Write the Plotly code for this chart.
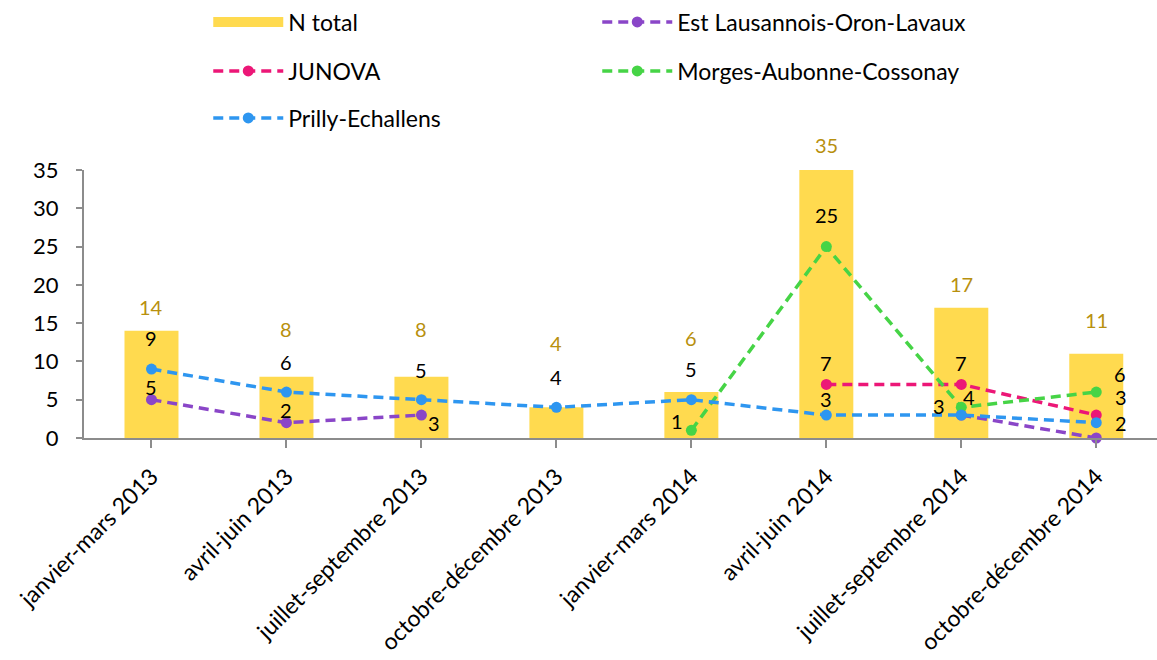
import plotly.graph_objects as go

categories = ["janvier-mars 2013", "avril-juin 2013", "juillet-septembre 2013",
              "octobre-décembre 2013", "janvier-mars 2014", "avril-juin 2014",
              "juillet-septembre 2014", "octobre-décembre 2014"]
n_total = [14, 8, 8, 4, 6, 35, 17, 11]
est_lausannois = [5, 2, 3, None, None, None, 3, 0]
junova = [None, None, None, None, None, 7, 7, 3]
morges = [None, None, None, None, 1, 25, 4, 6]
prilly = [9, 6, 5, 4, 5, 3, 3, 2]

# label nudges (pixels): styling only
total_label_shift = [24, 48, 48, 64, 54, 25, 24, 34]
series_label_shift = {
    "Est Lausannois-Oron-Lavaux": [(0, 13), (0, 13), (13, -8), None, None, None, None, None],
    "JUNOVA": [None, None, None, None, None, (0, 21), (0, 21), (25, 18)],
    "Morges-Aubonne-Cossonay": [None, None, None, None, (-14, 9), (0, 32), (8, 10), (24, 18)],
    "Prilly-Echallens": [(0, 31), (0, 30), (0, 30), (0, 30), (0, 31), (0, 16), (-22, 9), (25, 0)],
}

FONT = "Lato, 'Open Sans', sans-serif"
BAR_COLOR = "#FFDA4F"
TOTAL_LABEL_COLOR = "#B8900E"

series = [
    ("Est Lausannois-Oron-Lavaux", est_lausannois, "#8A46C8", "legend"),
    ("JUNOVA", junova, "#EC1777", "legend2"),
    ("Morges-Aubonne-Cossonay", morges, "#46D446", "legend2"),
    ("Prilly-Echallens", prilly, "#2E96F0", "legend3"),
]

x_idx = list(range(len(categories)))

fig = go.Figure()
fig.add_trace(go.Bar(
    x=x_idx, y=n_total, name="N total", marker=dict(color=BAR_COLOR, line=dict(width=0)),
    width=0.4, showlegend=False,
))
# legend swatch for the bars (wide rectangle like the original)
fig.add_trace(go.Scatter(
    x=[None], y=[None], name="N total", mode="lines",
    line=dict(color=BAR_COLOR, width=17), legend="legend", hoverinfo="skip",
))
for name, vals, color, leg in series:
    fig.add_trace(go.Scatter(
        x=x_idx, y=vals, name=name, mode="lines+markers",
        line=dict(color=color, width=3.5, dash="10px,6px"),
        marker=dict(color=color, size=11, symbol="circle"),
        connectgaps=False, cliponaxis=False, legend=leg,
    ))

annotations = []
for i, v in enumerate(n_total):
    annotations.append(dict(
        x=i, y=v, xref="x", yref="y", text=str(v), showarrow=False,
        yanchor="middle", yshift=total_label_shift[i],
        font=dict(family=FONT, size=20, color=TOTAL_LABEL_COLOR),
    ))
for name, vals, color, leg in series:
    shifts = series_label_shift[name]
    for i, v in enumerate(vals):
        if v is None or shifts[i] is None:
            continue
        dx, dy = shifts[i]
        annotations.append(dict(
            x=i, y=v, xref="x", yref="y", text=str(v), showarrow=False,
            xanchor="center", yanchor="middle", xshift=dx, yshift=dy,
            font=dict(family=FONT, size=20, color="#000000"),
        ))

legend_common = dict(
    orientation="h", xref="container", yref="container", x=0.18, xanchor="left",
    yanchor="middle", entrywidth=304, entrywidthmode="pixels", itemwidth=70,
    font=dict(family=FONT, size=23, color="#000000"), bgcolor="rgba(0,0,0,0)",
    traceorder="normal",
)

fig.update_layout(
    width=1157, height=660,
    margin=dict(l=84, r=0, t=170, b=222),
    paper_bgcolor="white", plot_bgcolor="white",
    font=dict(family=FONT, size=20, color="#000000"),
    showlegend=True,
    legend=dict(legend_common, y=1 - 22 / 660),
    legend2=dict(legend_common, y=1 - 71 / 660),
    legend3=dict(legend_common, y=1 - 118 / 660),
    annotations=annotations,
    xaxis=dict(
        tickmode="array", tickvals=x_idx, ticktext=categories, tickangle=-45,
        range=[-0.5, 7.45], showgrid=False, zeroline=False, automargin=False,
        showline=True, linecolor="#8C8C8C", linewidth=2,
        ticks="outside", tickson="boundaries", ticklen=8, tickcolor="#8C8C8C", tickwidth=1.5,
        tickfont=dict(family=FONT, size=23, color="#000000"),
        ticklabelstandoff=6,
    ),
    yaxis=dict(
        range=[0, 35], tickvals=[0, 5, 10, 15, 20, 25, 30, 35], showgrid=False, zeroline=False,
        showline=True, linecolor="#8C8C8C", linewidth=2, automargin=False,
        ticks="outside", ticklen=6, tickcolor="#8C8C8C", tickwidth=1.5,
        tickfont=dict(family=FONT, size=22, color="#000000"),
        ticklabelstandoff=13,
    ),
)

fig.write_html("out.html")
